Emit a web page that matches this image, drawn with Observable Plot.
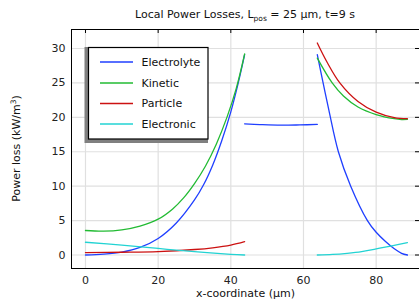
<!DOCTYPE html>
<html>
<head>
<meta charset="utf-8">
<script src="https://cdn.jsdelivr.net/npm/d3@7"></script>
<script src="https://cdn.jsdelivr.net/npm/@observablehq/plot@0.6"></script>
<style>
  html, body { margin: 0; padding: 0; background: #fff; overflow: hidden; }
  svg { display: block; }
</style>
</head>
<body>
<div id="chart"></div>
<script>
// ---- data ----
const seriesNames = ["Electrolyte", "Kinetic", "Particle", "Electronic"];
const seriesColors = ["#1f3fff", "#22bb33", "#cc1111", "#22d3d3"];
const xTicks = [0, 20, 40, 60, 80];
const yTicks = [0, 5, 10, 15, 20, 25, 30];

const electrolyteNeg = [[0,0],[5,0.12],[10,0.42],[15,1.1],[20,2.4],[25,4.65],[30,8.0],[32.5,10.2],[35,13.05],[37.5,16.6],[40,20.8],[42,24.9],[43.8,29.1]];
const electrolyteSep = [[43.8,19.05],[48,18.95],[53.8,18.86],[59,18.9],[63.8,18.97]];
const electrolytePos = [[63.8,29.1],[65.4,25.0],[67,21],[69.6,15],[73,10],[77.6,5],[80,3.3],[82.5,2.0],[85,0.9],[87,0.25],[88.6,0]];

const kineticNeg = [[0,3.56],[5,3.46],[10,3.66],[15,4.21],[20,5.21],[24,6.7],[27,8.3],[30,10.38],[33,12.9],[36,16.1],[39,20.1],[41.5,24.2],[43.8,29.2]];
const kineticPos = [[63.8,28.6],[67.9,25],[71,23.1],[75,21.5],[80,20.4],[85,19.8],[87,19.68],[88.6,19.7]];

const particleNeg = [[0,0.35],[10,0.4],[20,0.5],[30,0.8],[35,1.05],[40,1.45],[43.8,1.95]];
const particlePos = [[63.8,30.8],[66.5,28.0],[70,25.0],[75,22.3],[80,20.75],[85,19.95],[88.6,19.8]];

const electronicNeg = [[0,1.85],[10,1.45],[20,0.95],[30,0.48],[40,0.1],[43.8,0.0]];
const electronicPos = [[63.8,0],[68,0.08],[72,0.25],[76,0.5],[80,0.9],[84,1.3],[88.6,1.8]];

// build a long table from the arrays
const segments = [
  ["Electrolyte", "neg", electrolyteNeg], ["Electrolyte", "sep", electrolyteSep], ["Electrolyte", "pos", electrolytePos],
  ["Kinetic", "neg", kineticNeg], ["Kinetic", "pos", kineticPos],
  ["Particle", "neg", particleNeg], ["Particle", "pos", particlePos],
  ["Electronic", "neg", electronicNeg], ["Electronic", "pos", electronicPos]
];
const rows = segments.flatMap(([s, seg, pts]) => pts.map(([x, y]) => ({series: s, seg: s + "-" + seg, x, y})));

const W = 419, H = 302, mL = 71, mR = 0, mT = 29, mB = 34;
const font = "DejaVu Sans";

const chart = Plot.plot({
  width: W, height: H,
  marginLeft: mL, marginRight: mR, marginTop: mT, marginBottom: mB,
  style: {fontFamily: font, fontSize: "11px", background: "white", color: "#222"},
  x: {domain: [-3.85, 91.93]},
  y: {domain: [-1.96, 32.76]},
  color: {domain: seriesNames, range: seriesColors},
  marks: [
    Plot.gridX(xTicks, {stroke: "#e0e0e0", strokeOpacity: 1, strokeWidth: 1.2}),
    Plot.gridY(yTicks, {stroke: "#e0e0e0", strokeOpacity: 1, strokeWidth: 1.2}),
    Plot.axisX(xTicks, {tickSize: 0, tickPadding: 8, label: null, fontSize: 11}),
    Plot.axisY(yTicks, {tickSize: 0, tickPadding: 6, label: null, fontSize: 11}),
    Plot.line(rows, {x: "x", y: "y", z: "seg", stroke: "series", strokeWidth: 1.3, curve: "catmull-rom"}),
    Plot.frame({anchor: "left", stroke: "black"}),
    Plot.frame({anchor: "bottom", stroke: "black"}),
    Plot.frame({anchor: "top", stroke: "black"}),
    Plot.tickX(xTicks, {x: d => d, stroke: "black", insetBottom: (H - mT - mB) - 4}),
    Plot.tickY(yTicks, {y: d => d, stroke: "black", insetLeft: (W - mL - mR) - 4})
  ]
});
document.getElementById("chart").appendChild(chart);

const svg = d3.select(chart);

// title with subscript
const title = svg.append("text")
  .attr("x", (mL + W - mR) / 2).attr("y", 17.5)
  .attr("text-anchor", "middle")
  .attr("font-family", font).attr("font-size", 11).attr("fill", "#111");
title.append("tspan").text("Local Power Losses, L");
title.append("tspan").attr("font-size", 7.5).attr("dy", 3).text("pos");
title.append("tspan").attr("dy", -3).text(" = 25 µm, t=9 s");

// y label with superscript
const yl = svg.append("text")
  .attr("transform", `translate(19.5,${(mT + H - mB) / 2}) rotate(-90)`)
  .attr("text-anchor", "middle")
  .attr("font-family", font).attr("font-size", 11).attr("fill", "#111");
yl.append("tspan").text("Power loss (kW/m");
yl.append("tspan").attr("font-size", 7.5).attr("dy", -4).text("3");
yl.append("tspan").attr("dy", 4).text(")");

// x label
svg.append("text")
  .attr("x", (mL + W - mR) / 2 + 0.5).attr("y", 296.5)
  .attr("text-anchor", "middle")
  .attr("font-family", font).attr("font-size", 11).attr("fill", "#111")
  .text("x-coordinate (µm)");

// legend box with shadow
const lg = svg.append("g");
lg.append("rect").attr("x", 84.5).attr("y", 47).attr("width", 123.5).attr("height", 96).attr("fill", "#808080");
lg.append("rect").attr("x", 88.5).attr("y", 47.5).attr("width", 119.5).attr("height", 91.5)
  .attr("fill", "white").attr("stroke", "black").attr("stroke-width", 1.2);
const rowY = [62, 83, 103.5, 124];
seriesNames.forEach((name, i) => {
  lg.append("line").attr("x1", 100).attr("x2", 133).attr("y1", rowY[i]).attr("y2", rowY[i])
    .attr("stroke", seriesColors[i]).attr("stroke-width", 1.5);
  lg.append("text").attr("x", 141.5).attr("y", rowY[i]).attr("dy", "0.36em")
    .attr("text-anchor", "start")
    .attr("font-family", font).attr("font-size", 11).attr("fill", "#111").text(name);
});
</script>
</body>
</html>
